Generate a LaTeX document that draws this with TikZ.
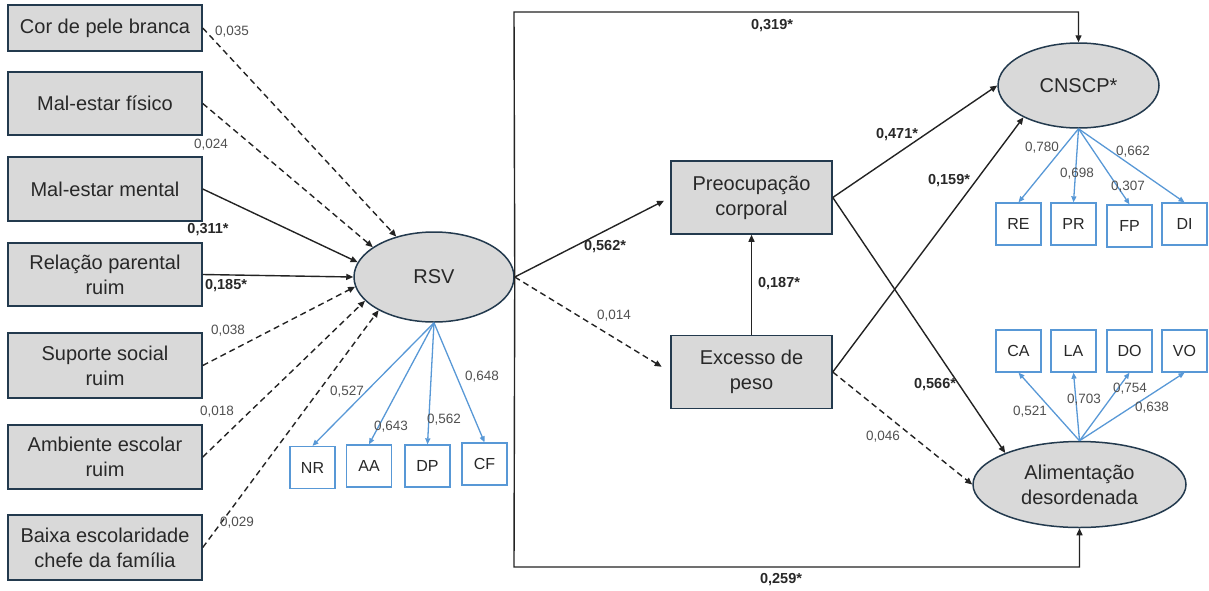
\documentclass[tikz,border=0pt]{standalone}
\usepackage{fontspec}
\setmainfont{Liberation Sans}
\usetikzlibrary{arrows.meta,shapes.geometric,calc}
\definecolor{boxfill}{RGB}{217,217,217}
\definecolor{boxline}{RGB}{35,58,78}
\definecolor{indblue}{RGB}{88,152,214}
\definecolor{txtgray}{RGB}{40,40,40}
\definecolor{labgray}{RGB}{80,80,80}
\definecolor{arrline}{RGB}{35,35,35}
\begin{document}
\begin{tikzpicture}[x=1pt,y=-1pt,
  lbox/.style={draw=boxline,line width=1.5pt,fill=boxfill,minimum width=194pt,minimum height=64pt,inner sep=2pt,align=center,text=txtgray,font=\fontsize{20}{25}\selectfont},
  mbox/.style={draw=boxline,line width=1.5pt,fill=boxfill,minimum width=161pt,minimum height=73pt,inner sep=2pt,align=center,text=txtgray,font=\fontsize{20}{25}\selectfont},
  lat/.style={draw=boxline,line width=1.5pt,fill=boxfill,shape=ellipse,inner sep=0pt,align=center,text=txtgray,font=\fontsize{20}{25}\selectfont},
  ind/.style={draw=indblue,line width=1.3pt,fill=white,minimum width=45pt,minimum height=42pt,inner sep=0pt,text=txtgray,font=\fontsize{16}{18}\selectfont},
  sarr/.style={draw=arrline,line width=1.4pt,-{Triangle[length=7pt,width=6pt]}},
  darr/.style={sarr,dash pattern=on 6pt off 4pt},
  barr/.style={draw=indblue,line width=1.3pt,-{Triangle[length=6pt,width=5pt]}},
  lab/.style={text=labgray,font=\fontsize{13.5}{15}\selectfont,inner sep=0pt},
  blab/.style={text=txtgray,font=\bfseries\fontsize{14.5}{16}\selectfont,inner sep=0pt}
]
\useasboundingbox (0,0) rectangle (1209,590);
% left predictors
\node[lbox,minimum height=46pt] (c1) at (105,28) {Cor de pele branca};
\node[lbox,minimum height=63pt] (c2) at (105,103.5) {Mal-estar físico};
\node[lbox] (c3) at (105,189) {Mal-estar mental};
\node[lbox,minimum height=63pt] (c4) at (105,274.5) {Relação parental\\ruim};
\node[lbox,minimum height=65pt] (c5) at (105,365.5) {Suporte social\\ruim};
\node[lbox] (c6) at (105,457) {Ambiente escolar\\ruim};
\node[lbox,minimum height=65pt] (c7) at (105,547.5) {Baixa escolaridade\\chefe da família};
% RSV
\node[lat,minimum width=160pt,minimum height=90pt] (rsv) at (434,277) {RSV};
\node[ind] (nr) at (312.5,467.5) {NR};
\node[ind] (aa) at (369,466) {AA};
\node[ind] (dp) at (427.5,466) {DP};
\node[ind] (cf) at (484.5,464) {CF};
% middle
\node[mbox] (pc) at (751.5,197.5) {Preocupação\\corporal};
\node[mbox] (ex) at (751.5,372) {Excesso de\\peso};
% right latent
\node[lat,minimum width=161pt,minimum height=85pt] (cn) at (1078.5,85.5) {CNSCP*};
\node[ind] (re) at (1018.5,224) {RE};
\node[ind] (pr) at (1073.5,224) {PR};
\node[ind] (fp) at (1129.5,226) {FP};
\node[ind] (di) at (1184.5,224) {DI};
\node[lat,minimum width=213pt,minimum height=86pt] (al) at (1079.5,484.5) {Alimentação\\desordenada};
\node[ind] (ca) at (1018.5,351) {CA};
\node[ind] (la) at (1073.5,351) {LA};
\node[ind] (do) at (1129.5,351) {DO};
\node[ind] (vo) at (1184.5,351) {VO};
\coordinate (tl) at (514,12);
\coordinate (bl) at (514,567);
% predictor arrows
\draw[darr] (c1.east) -- (rsv.133);
\draw[darr] (c2.east) -- (rsv.154);
\draw[sarr] (c3.east) -- (rsv.169);
\draw[sarr] (c4.east) -- (rsv.west);
\draw[darr] (c5.east) -- (rsv.187);
\draw[darr] (c6.east) -- (rsv.199);
\draw[darr] (c7.east) -- (rsv.211);
% RSV indicators
\draw[barr] (rsv.south) -- (nr.north);
\draw[barr] (rsv.south) -- (aa.north);
\draw[barr] (rsv.south) -- (dp.north);
\draw[barr] (rsv.south) -- (cf.north);
% RSV outgoing
\draw[sarr,shorten >=7pt] (rsv.east) -- (pc.west);
\draw[darr,shorten >=10pt] (rsv.east) -- (ex.west);
\draw[sarr] (ex.north) -- (pc.south);
\draw[sarr] (rsv.east) -- (tl) -| (cn.north);
\draw[sarr] (rsv.east) -- (bl) -| (al.south);
% to outcomes
\draw[sarr] (pc.east) -- (cn.west);
\draw[sarr] (ex.east) -- (cn.210);
\draw[sarr] (pc.east) -- (al.157);
\draw[darr] (ex.east) -- (al.west);
% CNSCP indicators
\draw[barr] (cn.south) -- (re.north);
\draw[barr] (cn.south) -- (pr.north);
\draw[barr] (cn.south) -- (fp.north);
\draw[barr] (cn.south) -- (di.north);
% Alimentacao indicators
\draw[barr] (al.north) -- (ca.south);
\draw[barr] (al.north) -- (la.south);
\draw[barr] (al.north) -- (do.south);
\draw[barr] (al.north) -- (vo.south);
% labels
\node[lab] (l1) at (232,32) {0,035};
\node[lab] (l2) at (211,145) {0,024};
\node[blab] (l3) at (208,230) {0,311*};
\node[blab] (l4) at (226,286) {0,185*};
\node[lab] (l5) at (228,331) {0,038};
\node[lab] (l6) at (217,412) {0,018};
\node[lab] (l7) at (237,523) {0,029};
\node[lab] (l8) at (347,392) {0,527};
\node[lab] (l9) at (391,427) {0,643};
\node[lab] (l10) at (444,420) {0,562};
\node[lab] (l11) at (482,377) {0,648};
\node[blab] (l12) at (605,247) {0,562*};
\node[lab] (l13) at (614,316) {0,014};
\node[blab] (l14) at (779,284) {0,187*};
\node[blab] (l15) at (772,26) {0,319*};
\node[blab] (l16) at (781,580) {0,259*};
\node[blab] (l17) at (897,135) {0,471*};
\node[blab] (l18) at (949,181) {0,159*};
\node[blab] (l19) at (935,385) {0,566*};
\node[lab] (l20) at (883,437) {0,046};
\node[lab] (l21) at (1042,148) {0,780};
\node[lab] (l22) at (1077,174) {0,698};
\node[lab] (l23) at (1128,187) {0,307};
\node[lab] (l24) at (1133,152) {0,662};
\node[lab] (l25) at (1030,412) {0,521};
\node[lab] (l26) at (1084,400) {0,703};
\node[lab] (l27) at (1130,389) {0,754};
\node[lab] (l28) at (1152,408) {0,638};
\end{tikzpicture}
\end{document}
